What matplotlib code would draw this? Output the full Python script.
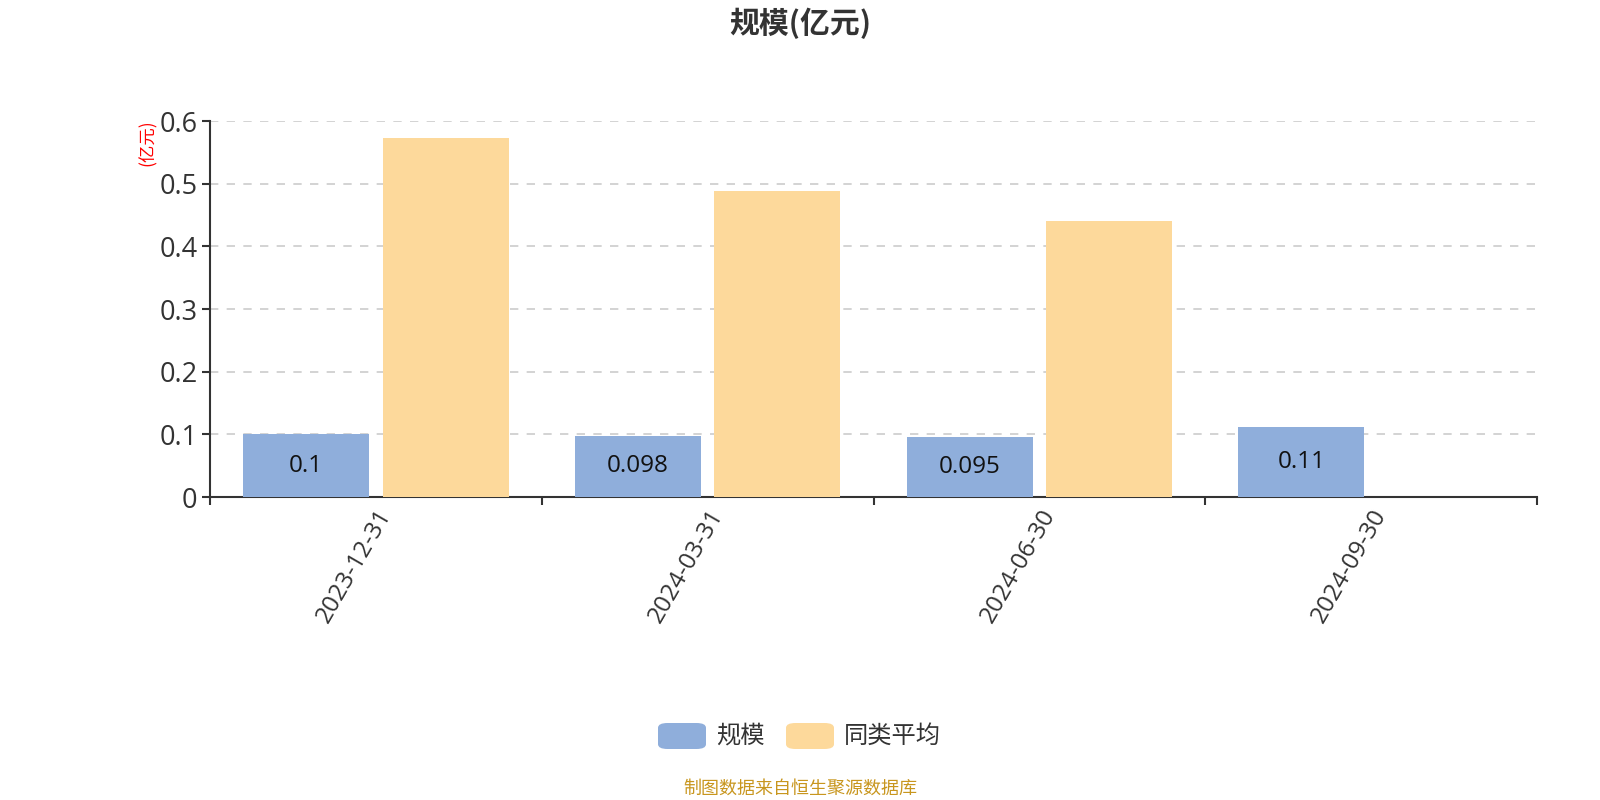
import numpy as np
import matplotlib
matplotlib.use('Agg')
import matplotlib.pyplot as plt
from matplotlib.patches import FancyBboxPatch

plt.rcParams['font.family'] = ['Open Sans', 'Noto Sans CJK SC', 'DejaVu Sans']
cjk = ['Noto Sans CJK SC', 'DejaVu Sans']

# 数据
dates = ['2023-12-31', '2024-03-31', '2024-06-30', '2024-09-30']
scale = [0.1, 0.098, 0.095, 0.111]
scale_labels = ['0.1', '0.098', '0.095', '0.11']
peer_avg = [0.573, 0.489, 0.441, None]
y_ticks = [0, 0.1, 0.2, 0.3, 0.4, 0.5, 0.6]

blue = '#8FAEDB'
orange = '#FDD99B'

fig = plt.figure(figsize=(16, 8), dpi=100)
ax = fig.add_axes([210 / 1600, 1 - 497 / 800, 1327 / 1600, 376 / 800])

x = np.arange(len(dates))
w = 0.38
off = 0.21

ax.bar(x - off, scale, width=w, color=blue, zorder=3)
peer_x = [xi + off for xi, v in zip(x, peer_avg) if v is not None]
peer_v = [v for v in peer_avg if v is not None]
ax.bar(peer_x, peer_v, width=w, color=orange, zorder=3)

for xi, v, lab in zip(x, scale, scale_labels):
    ax.text(xi - off, v / 2, lab, ha='center', va='center', fontsize=17.5,
            color='#111111', zorder=4)

ax.set_xlim(-0.5, len(dates) - 0.5)
ax.set_ylim(0, 0.6)
ax.set_yticks(y_ticks)
ax.set_yticklabels(['0', '0.1', '0.2', '0.3', '0.4', '0.5', '0.6'])
ax.yaxis.grid(True, linestyle=(0, (5, 5)), color='#cccccc', linewidth=1.2, zorder=0)

# x 轴刻度放在类别边界
ax.set_xticks(np.arange(-0.5, len(dates), 1.0))
ax.set_xticklabels([])
ax.set_xticks(x, minor=True)
ax.set_xticklabels(dates, minor=True, rotation=60, ha='right', va='top',
                   rotation_mode='anchor', fontsize=17.5, color='#333333')
ax.tick_params(axis='x', which='minor', length=0, pad=6)
ax.tick_params(axis='x', which='major', length=6, width=1.5, color='#333333')
ax.tick_params(axis='y', length=6, width=1.5, color='#333333', labelsize=19.5,
               labelcolor='#333333', pad=3)

for side in ['top', 'right']:
    ax.spines[side].set_visible(False)
for side in ['left', 'bottom']:
    ax.spines[side].set_color('#333333')
    ax.spines[side].set_linewidth(1.5)

# 标题和单位
fig.text(0.5, 1 - 23 / 800, '规模(亿元)', ha='center', va='center',
         fontsize=21.5, fontweight='bold', color='#333333', family=cjk)
fig.text(148 / 1600, 1 - 143 / 800, '(亿元)', ha='center', va='center',
         rotation=90, fontsize=12.5, color='red', family=cjk)

# 图例
legend_items = [('规模', blue, 658), ('同类平均', orange, 786)]
for name, col, px in legend_items:
    patch = FancyBboxPatch((px / 1600, 1 - 749 / 800), 48 / 1600, 26 / 800,
                           boxstyle='round,pad=0,rounding_size=0.006',
                           transform=fig.transFigure, facecolor=col,
                           edgecolor='none')
    fig.patches.append(patch)
    fig.text((px + 58) / 1600, 1 - 736 / 800, name, ha='left', va='center',
             fontsize=17.5, color='#333333', family=cjk)

fig.text(0.5, 1 - 789 / 800, '制图数据来自恒生聚源数据库', ha='center',
         va='center', fontsize=13, color='#C8961E', family=cjk)

fig.savefig('out.png', dpi=100)
